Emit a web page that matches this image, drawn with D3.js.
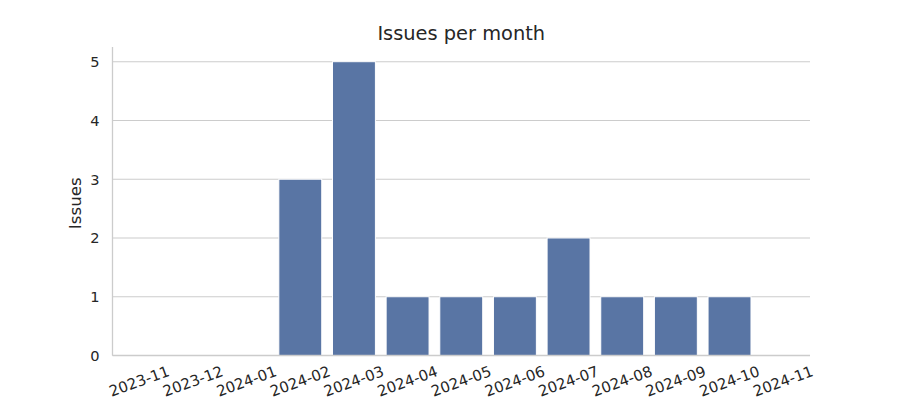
<!DOCTYPE html>
<html>
<head>
<meta charset="utf-8">
<script src="https://cdn.jsdelivr.net/npm/d3@7"></script>
<style>
  body { margin: 0; background: #fff; }
  svg { display: block; font-family: "DejaVu Sans", sans-serif; }
</style>
</head>
<body>
<svg id="chart" width="900" height="400"></svg>
<script>
const months = ["2023-11","2023-12","2024-01","2024-02","2024-03","2024-04","2024-05","2024-06","2024-07","2024-08","2024-09","2024-10","2024-11"];
const issues = [0,0,0,3,5,1,1,1,2,1,1,1,0];
const yTicks = [0,1,2,3,4,5];
const title = "Issues per month";
const yLabel = "Issues";

const svg = d3.select("#chart");
const margin = {left: 112.5, right: 90, top: 47, bottom: 44.5};
const W = 900, H = 400;
const x = d3.scaleBand().domain(months).range([margin.left, W - margin.right]).paddingInner(0.2).paddingOuter(0.1);
const y = d3.scaleLinear().domain([0, 5.25]).range([H - margin.bottom, margin.top]);

// gridlines
svg.append("g").selectAll("line").data(yTicks).join("line")
  .attr("x1", margin.left).attr("x2", W - margin.right)
  .attr("y1", d => y(d)).attr("y2", d => y(d))
  .attr("stroke", "#cccccc").attr("stroke-width", 1.1);

// bars
const data = months.map((m, i) => ({m, v: issues[i]}));
svg.append("g").selectAll("rect").data(data.filter(d => d.v > 0)).join("rect")
  .attr("x", d => x(d.m)).attr("width", x.bandwidth())
  .attr("y", d => y(d.v)).attr("height", d => y(0) - y(d.v))
  .attr("fill", "#5975a4").attr("stroke", "#ffffff").attr("stroke-width", 1);

// spines
svg.append("line").attr("x1", margin.left).attr("x2", margin.left)
  .attr("y1", margin.top).attr("y2", y(0)).attr("stroke", "#cccccc").attr("stroke-width", 1.3);
svg.append("line").attr("x1", margin.left).attr("x2", W - margin.right)
  .attr("y1", y(0)).attr("y2", y(0)).attr("stroke", "#cccccc").attr("stroke-width", 1.3);

// y tick labels
svg.append("g").selectAll("text").data(yTicks).join("text")
  .attr("x", margin.left - 13).attr("y", d => y(d))
  .attr("text-anchor", "end").attr("dominant-baseline", "central")
  .attr("font-size", 14.6).attr("fill", "#262626")
  .text(d => d);

// x tick labels rotated 20deg, centered
const ang = 20 * Math.PI / 180;
const xl = svg.append("g").selectAll("text").data(months).join("text")
  .attr("text-anchor", "middle").attr("dominant-baseline", "central")
  .attr("font-size", 15.0).attr("fill", "#262626")
  .text(d => d);
xl.each(function(d) {
  const w = this.getComputedTextLength();
  const h = 15.0 * 1.16;
  const bh = w * Math.sin(ang) + h * Math.cos(ang);
  const cx = x(d) + x.bandwidth() / 2;
  const cy = y(0) + 7 + bh / 2;
  d3.select(this).attr("transform", `translate(${cx},${cy}) rotate(-20)`);
});

// y label
svg.append("text")
  .attr("transform", `translate(81,${(margin.top + y(0)) / 2 + 2}) rotate(-90)`)
  .attr("text-anchor", "middle").attr("font-size", 16.7).attr("fill", "#262626")
  .text(yLabel);

// title
svg.append("text")
  .attr("x", (margin.left + W - margin.right) / 2).attr("y", 40)
  .attr("text-anchor", "middle").attr("font-size", 19.4).attr("fill", "#262626")
  .text(title);
</script>
</body>
</html>
